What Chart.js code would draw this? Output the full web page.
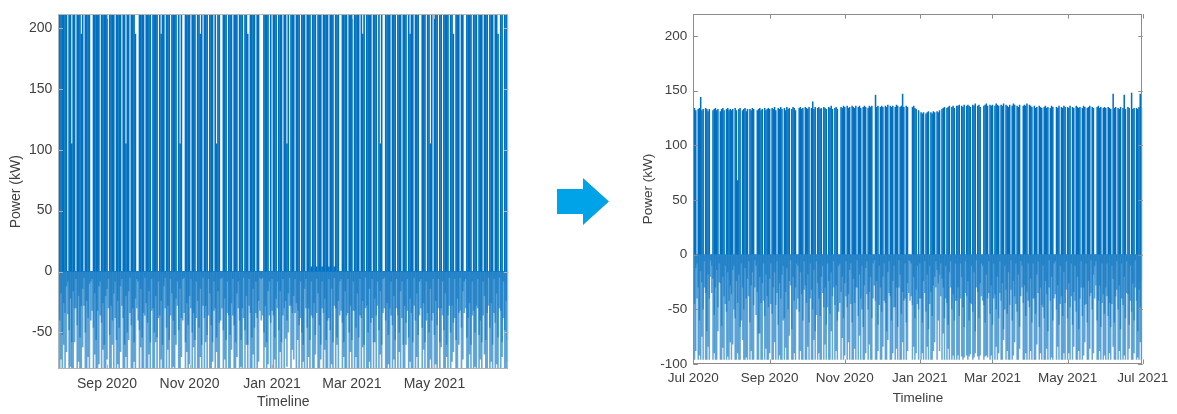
<!DOCTYPE html>
<html>
<head>
<meta charset="utf-8">
<title>Power before and after</title>
<script src="https://cdn.jsdelivr.net/npm/chart.js@4.4.1/dist/chart.umd.min.js"></script>
<style>
  body { margin: 0; background: #fff; }
  #page { position: relative; width: 1177px; height: 414px; overflow: hidden; }
  canvas { position: absolute; top: 0; }
  #before { left: 0; }
  #after { left: 625px; }
  #arrow {
    position: absolute; left: 557px; top: 178px; width: 52px; height: 47px;
    background: #00a2e8;
    clip-path: polygon(0 11px, 26px 11px, 26px 0, 52px 23.5px, 26px 47px, 26px 36px, 0 36px);
  }
</style>
</head>
<body>
<div id="page">
  <canvas id="before" width="530" height="414"></canvas>
  <div id="arrow"></div>
  <canvas id="after" width="552" height="414"></canvas>
</div>
<script>
// Day numbers count from 1 Jul 2020 (day 0)
const tickDays = [0, 62, 123, 184, 243, 304, 365];
const tickLabels = ['Jul 2020', 'Sep 2020', 'Nov 2020', 'Jan 2021', 'Mar 2021', 'May 2021', 'Jul 2021'];

// ---- before: 27 Jul 2020 .. 24 Jun 2021, daily values in kW ----
const beforeFirstDay = 26;
const beforeTicksY = [-50, 0, 50, 100, 150, 200];

const beforePeak = [
  0,215,215,215,215,
  215,215,0,215,215,105,215,215,0,215,215,215,195,215,0,215,215,215,215,0,0,215,215,215,215,215,0,215,215,215,215,
  215,0,215,215,215,215,0,215,215,215,215,0,215,215,105,215,215,0,215,215,215,195,0,0,215,215,215,215,0,215,
  215,215,215,0,215,215,215,215,0,215,195,215,215,0,215,215,215,0,215,215,215,215,0,215,105,215,0,0,215,215,215,
  215,0,215,215,215,0,215,215,195,215,0,215,215,215,0,215,215,215,0,215,105,215,215,0,0,215,215,215,0,215,
  215,215,0,215,215,215,0,215,215,215,0,215,215,195,0,215,215,215,215,0,215,215,0,0,0,215,215,215,215,0,215,
  0,215,215,215,0,215,215,215,0,215,215,105,215,0,215,215,215,0,215,215,215,0,215,215,215,0,215,215,215,4,215,
  215,215,4,215,215,215,4,215,215,215,215,4,215,215,215,4,215,215,215,0,0,215,215,215,215,0,215,215,
  215,0,215,215,215,215,0,215,195,215,0,215,215,215,215,0,215,215,215,0,215,105,215,0,0,215,215,215,215,0,215,
  215,215,0,215,215,215,0,215,215,215,0,215,195,215,215,0,215,215,215,0,0,215,215,215,0,215,215,105,215,0,
  215,215,215,0,215,215,0,215,215,215,215,0,215,215,195,0,215,215,215,0,215,215,0,0,215,215,215,215,0,215,215,
  215,0,215,215,215,0,215,215,215,0,215,215,215,0,215,215,195,0,215,215,0,215,215,215
];
const beforeLow = [
  -30,-85,-72,-85,-60,
  -85,-66,-35,-85,-78,-85,-85,-58,-30,-85,-74,-85,-85,-62,-28,-85,-85,-70,-85,-40,-32,-85,-68,-85,-85,-76,-36,-85,-64,-85,-85,
  -72,-30,-85,-85,-60,-85,-38,-85,-76,-85,-66,-28,-85,-85,-70,-85,-56,-34,-85,-85,-74,-85,-30,-40,-85,-62,-85,-85,-36,-80,
  -85,-68,-85,-32,-85,-85,-58,-85,-38,-85,-72,-85,-85,-30,-85,-64,-85,-36,-85,-78,-85,-60,-28,-85,-85,-70,-40,-34,-85,-66,-85,
  -76,-30,-85,-62,-85,-38,-85,-85,-70,-85,-28,-85,-58,-85,-36,-85,-85,-74,-32,-85,-66,-85,-85,-40,-30,-85,-72,-85,-34,-85,
  -85,-64,-36,-85,-85,-70,-30,-85,-78,-85,-38,-85,-60,-85,-28,-85,-85,-68,-85,-34,-85,-74,-32,-40,-36,-85,-62,-85,-76,-36,-85,
  -32,-85,-72,-85,-30,-85,-66,-85,-36,-85,-55,-78,-50,-28,-85,-64,-72,-34,-85,-56,-80,-38,-85,-74,-85,-30,-85,-70,-85,-36,-85,
  -85,-68,-34,-85,-85,-72,-30,-85,-64,-85,-85,-38,-85,-76,-85,-28,-85,-60,-85,-36,-32,-85,-70,-85,-85,-34,-85,-66,
  -85,-32,-85,-70,-85,-85,-36,-85,-62,-85,-30,-85,-85,-74,-85,-38,-85,-58,-85,-28,-85,-68,-85,-34,-30,-85,-85,-76,-85,-36,-85,
  -72,-85,-30,-85,-66,-85,-38,-85,-85,-60,-32,-85,-74,-85,-85,-28,-85,-70,-85,-36,-30,-85,-64,-85,-40,-85,-85,-72,-85,-34,
  -85,-76,-85,-30,-85,-62,-36,-85,-85,-70,-85,-28,-85,-74,-66,-38,-85,-85,-60,-32,-85,-72,-34,-30,-85,-85,-68,-85,-36,-85,-78,
  -85,-30,-85,-72,-85,-36,-68,-85,-85,-28,-85,-74,-85,-34,-85,-76,-85,-30,-85,-70,-38,-85,-85,-74
];
const beforeMid = [
  -6,-40,-18,-52,-26,
  -34,-12,-8,-48,-22,-58,-16,-30,-6,-44,-20,-54,-28,-14,-5,-50,-24,-38,-10,-8,-6,-46,-18,-56,-32,-12,-8,-42,-26,-60,-20,
  -14,-6,-52,-28,-40,-18,-8,-56,-24,-46,-12,-6,-38,-60,-20,-50,-16,-5,-44,-30,-58,-22,-6,-8,-48,-14,-54,-34,-5,-26,
  -42,-16,-58,-6,-30,-50,-20,-54,-8,-36,-24,-60,-12,-5,-46,-28,-56,-6,-18,-40,-52,-22,-8,-48,-14,-38,-6,-5,-58,-26,-44,
  -20,-6,-50,-34,-56,-8,-24,-46,-14,-60,-5,-38,-28,-52,-6,-18,-44,-58,-8,-30,-54,-16,-42,-6,-5,-48,-22,-56,-8,-36,
  -52,-26,-6,-44,-58,-18,-8,-40,-56,-30,-5,-48,-20,-60,-6,-34,-54,-14,-46,-8,-38,-24,-5,-6,-5,-50,-28,-58,-16,-8,-42,
  -6,-36,-54,-22,-8,-48,-16,-58,-6,-30,-24,-40,-18,-5,-28,-34,-20,-6,-26,-32,-44,-8,-50,-60,-14,-6,-46,-30,-56,-8,-38,
  -26,-52,-6,-18,-44,-60,-8,-34,-22,-56,-40,-6,-48,-14,-58,-5,-30,-54,-24,-8,-6,-42,-58,-16,-36,-6,-50,-28,
  -56,-8,-32,-46,-18,-54,-6,-38,-24,-60,-5,-28,-50,-14,-42,-6,-58,-22,-36,-8,-48,-16,-60,-6,-5,-40,-26,-52,-30,-8,-44,
  -20,-56,-6,-36,-50,-16,-8,-60,-28,-42,-6,-54,-22,-34,-58,-5,-40,-18,-52,-8,-6,-46,-26,-58,-8,-34,-50,-14,-40,-6,
  -52,-24,-44,-6,-58,-30,-8,-48,-18,-60,-36,-5,-50,-28,-42,-6,-56,-22,-34,-5,-46,-16,-8,-6,-54,-38,-26,-60,-8,-32,-50,
  -28,-6,-52,-40,-58,-8,-20,-56,-34,-5,-46,-26,-60,-6,-42,-18,-54,-5,-32,-58,-8,-48,-24,-56
];

// ---- after: 1 Jul 2020 .. 30 Jun 2021, daily values in kW ----
const afterFirstDay = 0;
const afterTicksY = [-100, -50, 0, 50, 100, 150, 200];

const afterPeak = [
  133,134,132,0,133,134,144,132,133,0,134,133,131,133,0,0,132,133,134,132,133,0,131,133,134,132,0,133,134,132,133,
  132,133,0,134,132,68,133,134,0,132,133,134,131,133,0,133,132,134,133,0,0,132,133,134,132,133,0,134,132,133,134,
  133,0,134,133,135,132,0,134,133,135,133,0,134,132,135,133,134,0,133,135,134,132,0,0,134,135,133,134,0,135,
  134,133,135,0,134,140,133,135,0,134,135,133,134,0,135,134,133,0,135,134,136,133,0,134,135,133,0,0,135,134,136,
  135,0,136,134,135,0,136,135,134,136,0,135,136,134,0,135,136,135,0,134,136,135,136,0,0,146,135,136,0,135,
  136,135,0,136,135,137,0,136,135,136,0,135,137,136,0,135,136,147,135,0,136,135,0,0,0,135,136,134,133,0,132,
  0,130,129,130,0,129,130,131,0,130,129,131,130,0,131,130,132,0,133,134,135,0,134,135,136,0,135,136,134,0,136,
  136,137,0,136,135,137,0,136,137,136,135,0,137,136,138,0,136,137,135,0,0,136,137,138,136,0,137,136,
  137,0,136,138,137,136,0,137,136,138,0,137,136,135,137,0,136,138,137,0,136,135,137,0,0,136,137,136,138,0,137,
  136,135,0,136,134,135,0,136,135,134,0,135,136,134,135,0,134,136,135,0,0,135,134,136,0,135,134,136,135,0,
  135,134,136,0,135,134,0,136,135,134,135,0,134,136,135,0,134,135,136,0,135,134,0,0,135,136,134,135,0,134,135,
  134,0,135,134,133,0,147,134,135,0,134,133,135,0,134,146,133,0,135,134,0,148,133,134,0,134,133,135,147,134
];
const afterLow = [
  -96,-96,-88,-40,-96,-92,-96,-75,-96,-30,-96,-96,-84,-96,-20,-35,-96,-90,-96,-96,-70,-25,-96,-96,-85,-96,-45,-96,-93,-96,-80,
  -96,-82,-50,-96,-96,-90,-96,-96,-60,-78,-96,-96,-94,-96,-38,-96,-88,-96,-96,-30,-55,-96,-96,-72,-96,-96,-42,-96,-86,-96,-96,
  -90,-45,-96,-96,-80,-96,-35,-96,-92,-96,-96,-60,-96,-85,-96,-96,-74,-28,-96,-96,-90,-96,-50,-40,-96,-88,-96,-96,-32,-96,
  -96,-84,-96,-40,-96,-96,-78,-96,-55,-96,-90,-96,-96,-35,-96,-82,-96,-48,-96,-96,-70,-96,-30,-96,-88,-96,-52,-44,-96,-76,-96,
  -92,-38,-96,-80,-96,-45,-96,-96,-86,-96,-30,-96,-74,-96,-50,-96,-96,-90,-36,-96,-82,-96,-96,-40,-28,-96,-96,-88,-46,-96,
  -96,-84,-42,-96,-96,-78,-35,-96,-96,-90,-48,-96,-86,-96,-30,-96,-96,-80,-96,-40,-96,-88,-35,-42,-38,-96,-84,-96,-90,-45,-96,
  -40,-96,-90,-96,-35,-96,-84,-96,-45,-96,-96,-88,-80,-30,-96,-60,-88,-38,-96,-72,-96,-40,-96,-86,-96,-30,-96,-92,-96,-42,-96,
  -92,-96,-40,-93,-96,-94,-35,-92,-96,-93,-91,-45,-96,-94,-90,-30,-93,-96,-92,-38,-42,-96,-93,-92,-94,-35,-96,-92,
  -96,-40,-96,-84,-96,-90,-35,-96,-96,-78,-50,-96,-88,-96,-96,-32,-96,-92,-80,-45,-96,-96,-86,-38,-30,-96,-96,-90,-96,-42,-96,
  -88,-96,-40,-96,-96,-82,-35,-96,-90,-96,-48,-96,-96,-86,-96,-30,-96,-94,-96,-40,-36,-96,-84,-96,-45,-96,-96,-90,-96,-32,
  -96,-90,-96,-38,-96,-84,-42,-96,-96,-88,-96,-30,-96,-92,-80,-45,-96,-96,-86,-35,-96,-90,-40,-28,-96,-96,-88,-96,-44,-96,-92,
  -96,-38,-96,-90,-96,-45,-84,-96,-96,-32,-96,-88,-96,-40,-96,-92,-96,-35,-96,-86,-42,-96,-96,-90,-30,-96,-94,-96,-80,-96
];
const afterMid = [
  -20,-45,-12,-8,-30,-60,-15,-25,-50,-6,-35,-70,-18,-40,-5,-10,-22,-55,-30,-14,-48,-8,-26,-65,-20,-38,-10,-52,-16,-42,-28,
  -36,-14,-10,-58,-24,-44,-18,-66,-8,-30,-50,-12,-40,-22,-6,-62,-28,-16,-46,-5,-10,-34,-72,-20,-44,-26,-8,-56,-18,-38,-48,
  -22,-8,-54,-30,-16,-46,-6,-64,-26,-40,-18,-10,-58,-34,-12,-50,-24,-5,-68,-20,-42,-30,-8,-10,-52,-16,-36,-60,-6,-28,
  -44,-18,-62,-8,-32,-50,-14,-70,-6,-26,-40,-56,-20,-10,-48,-30,-64,-8,-24,-54,-16,-38,-6,-46,-28,-60,-10,-8,-34,-20,-58,
  -26,-6,-48,-36,-14,-8,-62,-22,-44,-30,-5,-56,-18,-40,-10,-66,-28,-12,-6,-50,-34,-20,-58,-8,-5,-42,-24,-64,-10,-30,
  -52,-20,-8,-44,-70,-16,-6,-38,-60,-24,-10,-48,-30,-66,-5,-18,-54,-34,-42,-8,-62,-26,-5,-6,-8,-46,-20,-58,-32,-10,-50,
  -8,-40,-62,-24,-6,-52,-18,-68,-10,-34,-56,-28,-20,-6,-14,-26,-18,-8,-22,-30,-58,-10,-44,-64,-16,-6,-50,-36,-60,-8,-42,
  -30,-56,-8,-20,-48,-66,-6,-38,-24,-60,-44,-10,-52,-16,-70,-5,-34,-58,-26,-8,-10,-46,-62,-18,-40,-6,-54,-28,
  -64,-8,-36,-50,-20,-58,-6,-42,-26,-68,-10,-32,-54,-16,-46,-5,-60,-24,-38,-8,-52,-18,-66,-6,-10,-44,-28,-56,-34,-8,-48,
  -22,-62,-8,-40,-54,-18,-6,-66,-30,-46,-10,-58,-24,-36,-70,-5,-42,-20,-60,-8,-6,-50,-28,-64,-10,-38,-56,-16,-44,-6,
  -58,-26,-48,-8,-64,-34,-10,-52,-20,-68,-40,-6,-56,-30,-46,-8,-62,-24,-38,-5,-50,-18,-10,-6,-60,-42,-28,-66,-8,-36,-54,
  -30,-8,-56,-44,-66,-10,-22,-62,-38,-6,-50,-28,-68,-8,-46,-20,-58,-6,-36,-64,-10,-52,-26,-60,-5,-42,-70,-32,-48,-24
];

const FONT = "'Liberation Sans', Arial, sans-serif";
const TEXT = '#404040';
const CHARGE = '#0070c0';

// MATLAB-like axes box with inward tick marks
const boxPlugin = {
  id: 'box',
  afterDatasetsDraw(chart, args, opts) {
    const { ctx, chartArea: a, scales: { x, y } } = chart;
    const len = 4.5;
    ctx.save();
    ctx.strokeStyle = opts.color;
    ctx.lineWidth = 1;
    ctx.strokeRect(Math.round(a.left) + 0.5, Math.round(a.top) + 0.5,
      Math.round(a.width) - 1, Math.round(a.height) - 1);
    ctx.beginPath();
    x.ticks.forEach(t => {
      const px = Math.round(x.getPixelForValue(t.value)) + 0.5;
      ctx.moveTo(px, a.bottom); ctx.lineTo(px, a.bottom - len);
      ctx.moveTo(px, a.top); ctx.lineTo(px, a.top + len);
    });
    y.ticks.forEach(t => {
      const py = Math.round(y.getPixelForValue(t.value)) + 0.5;
      ctx.moveTo(a.left, py); ctx.lineTo(a.left + len, py);
      ctx.moveTo(a.right, py); ctx.lineTo(a.right - len, py);
    });
    ctx.stroke();
    ctx.restore();
  }
};

function toPoints(values, firstDay) {
  return values.map((v, i) => ({ x: firstDay + i, y: v }));
}

function barSet(values, firstDay, color) {
  return {
    data: toPoints(values, firstDay),
    backgroundColor: color,
    borderWidth: 0,
    grouped: false,
    barPercentage: 1,
    categoryPercentage: 1,
    inflateAmount: 0.15,
    clip: 0
  };
}

function makeChart(canvasId, cfg) {
  const fontTick = { family: FONT, size: cfg.fontSize };
  return new Chart(document.getElementById(canvasId), {
    type: 'bar',
    data: {
      datasets: [
        barSet(cfg.peak, cfg.firstDay, CHARGE),
        barSet(cfg.mid, cfg.firstDay, 'rgba(0, 112, 192, 0.55)'),
        barSet(cfg.low, cfg.firstDay, 'rgba(0, 112, 192, 0.6)')
      ]
    },
    options: {
      responsive: false,
      animation: false,
      events: [],
      layout: { padding: cfg.padding },
      plugins: {
        legend: { display: false },
        tooltip: { enabled: false },
        box: { color: cfg.boxColor }
      },
      scales: {
        x: {
          type: 'linear',
          offset: false,
          min: cfg.xMin,
          max: cfg.xMax,
          grid: { display: false, drawTicks: false, offset: false },
          border: { display: false },
          afterBuildTicks: s => { s.ticks = cfg.xTicks.map(v => ({ value: v })); },
          afterFit: s => { s.height = cfg.xHeight; },
          ticks: {
            autoSkip: false, maxRotation: 0, padding: cfg.xTickPad,
            color: TEXT, font: fontTick,
            callback: (v, i) => cfg.xLabels[i]
          },
          title: {
            display: true, text: 'Timeline', color: TEXT, font: fontTick,
            padding: { top: 0, bottom: cfg.xTitlePad }
          }
        },
        y: {
          min: cfg.yMin,
          max: cfg.yMax,
          grid: { display: false, drawTicks: false },
          border: { display: false },
          afterBuildTicks: s => { s.ticks = cfg.yTicks.map(v => ({ value: v })); },
          afterFit: s => { s.width = cfg.yWidth; },
          ticks: { padding: 6, color: TEXT, font: fontTick },
          title: {
            display: true, text: 'Power (kW)', color: TEXT, font: fontTick,
            padding: { top: cfg.yTitlePad, bottom: 0 }
          }
        }
      }
    },
    plugins: [boxPlugin]
  });
}

makeChart('before', {
  peak: beforePeak, mid: beforeMid, low: beforeLow, firstDay: beforeFirstDay,
  xMin: 26, xMax: 358.6, yMin: -80, yMax: 211,
  xTicks: tickDays.slice(1, 6), xLabels: tickLabels.slice(1, 6), yTicks: beforeTicksY,
  padding: { top: 13.7, right: 21.7, bottom: 0, left: 0 },
  yWidth: 58.3, xHeight: 45, xTickPad: 6.6, xTitlePad: 3.6, yTitlePad: 7.6,
  fontSize: 14, boxColor: '#b4b4b4'
});

makeChart('after', {
  peak: afterPeak, mid: afterMid, low: afterLow, firstDay: afterFirstDay,
  xMin: 0, xMax: 365, yMin: -100, yMax: 220,
  xTicks: tickDays, xLabels: tickLabels, yTicks: afterTicksY,
  padding: { top: 8.3, right: 34.3, bottom: 0, left: 0 },
  yWidth: 68.3, xHeight: 50, xTickPad: 6, xTitlePad: 7.9, yTitlePad: 14.9,
  fontSize: 13.5, boxColor: '#8c8c8c'
});
</script>
</body>
</html>
